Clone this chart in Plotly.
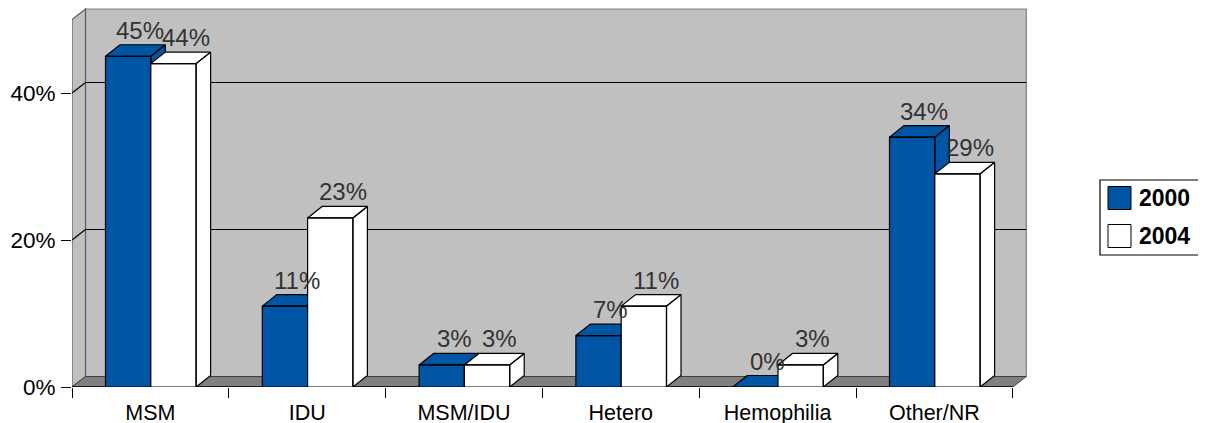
import plotly.graph_objects as go

# ---------------- data ----------------
categories = ["MSM", "IDU", "MSM/IDU", "Hetero", "Hemophilia", "Other/NR"]
series_names = ["2000", "2004"]
values_2000 = [45, 11, 3, 7, 0, 34]
values_2004 = [44, 23, 3, 11, 3, 29]
y_tick_vals = [0, 20, 40]
y_tick_text = ["0%", "20%", "40%"]

# ---------------- style / geometry ----------------
BLUE = "#0055A5"
WHITE = "#FFFFFF"
WALL = "#C0C0C0"
FLOOR = "#808080"
EDGE = "#808080"
FONT = "Liberation Sans, Arial, sans-serif"

PAGE_OFF = 8            # default body margin of the html page
W_PX, H_PX = 1206 - PAGE_OFF, 423 - PAGE_OFF
PX_PER_CAT = 156.8
PX_PER_PCT = 7.35
ML = 72 - PAGE_OFF
MT = 0
MR = W_PX - (1027 - PAGE_OFF)
MB = H_PX - (387 - PAGE_OFF)
plot_w = W_PX - ML - MR
plot_h = H_PX - MT - MB
XMAX = plot_w / PX_PER_CAT
YMAX = plot_h / PX_PER_PCT
TOP = 50  # wall top (front plane, %)

# depth offsets in data units
DXW, DYW = 13.5 / PX_PER_CAT, 10.5 / PX_PER_PCT      # walls / floor
DXB, DYB = 14.5 / PX_PER_CAT, 11.5 / PX_PER_PCT      # bars
BAR_OFF = 33.5 / PX_PER_CAT
BAR_W = 45.3 / PX_PER_CAT


def px(xp):  # page pixel -> paper
    return (xp - PAGE_OFF - ML) / plot_w


def py(yp):
    return (H_PX - MB - (yp - PAGE_OFF)) / plot_h


n = len(categories)
fig = go.Figure()

# ---------------- walls & floor ----------------
shapes = []
shapes.append(dict(type="rect", xref="x", yref="y", x0=DXW, x1=n + DXW, y0=DYW, y1=TOP + DYW,
                   fillcolor=WALL, line=dict(color=EDGE, width=1.2), layer="below"))
shapes.append(dict(type="path", xref="x", yref="y",
                   path=f"M0,0 L0,{TOP} L{DXW},{TOP + DYW} L{DXW},{DYW} Z",
                   fillcolor=WALL, line=dict(color="#606060", width=1.2), layer="below"))
shapes.append(dict(type="path", xref="x", yref="y",
                   path=f"M0,0 L{n},0 L{n + DXW},{DYW} L{DXW},{DYW} Z",
                   fillcolor=FLOOR, line=dict(color="#404040", width=1), layer="below"))
for v in y_tick_vals[1:]:
    shapes.append(dict(type="line", xref="x", yref="y", x0=DXW, x1=n + DXW,
                       y0=v + DYW, y1=v + DYW, line=dict(color="black", width=1.2), layer="below"))
    shapes.append(dict(type="line", xref="x", yref="y", x0=0, x1=DXW,
                       y0=v, y1=v + DYW, line=dict(color="black", width=1.2), layer="below"))
shapes.append(dict(type="line", xref="x", yref="y", x0=0, x1=n, y0=0, y1=0,
                   line=dict(color="black", width=1.5), layer="below"))

# ---------------- 3D bars (scatter polygons) ----------------
annotations = []
colors = [BLUE, WHITE]
for i in range(n):
    for s, vals in enumerate([values_2000, values_2004]):
        v = vals[i]
        col = colors[s]
        x0 = i + BAR_OFF + s * BAR_W
        x1 = x0 + BAR_W
        xs = [x0, x1, x1, x0, x0, None,
              x0, x1, x1 + DXB, x0 + DXB, x0, None,
              x1, x1 + DXB, x1 + DXB, x1, x1]
        ys = [0, 0, v, v, 0, None,
              v, v, v + DYB, v + DYB, v, None,
              0, DYB, v + DYB, v, 0]
        fig.add_trace(go.Scatter(
            x=xs, y=ys, mode="lines", fill="toself", fillcolor=col,
            line=dict(color="black", width=1.2), showlegend=False,
            name=series_names[s], hoverinfo="skip"))
        annotations.append(dict(
            x=(x0 + x1) / 2 + DXB * 0.85, y=v + DYB, xref="x", yref="y",
            text=f"{v}%", showarrow=False, yanchor="bottom", xanchor="center",
            font=dict(family=FONT, size=24, color="#333333"), yshift=-1))

# ---------------- legend (box, swatches, text) ----------------
shapes.append(dict(type="rect", xref="paper", yref="paper",
                   x0=px(1100), x1=px(1204.5), y0=py(255), y1=py(180),
                   fillcolor="white", line=dict(color="black", width=1.2)))
for k, (name, col) in enumerate(zip(series_names, colors)):
    cy = 198 + k * 38
    shapes.append(dict(type="rect", xref="paper", yref="paper",
                       x0=px(1108), x1=px(1131), y0=py(cy + 11.5), y1=py(cy - 11.5),
                       fillcolor=col, line=dict(color="black", width=1)))
    annotations.append(dict(x=px(1137), y=py(cy), xref="paper", yref="paper",
                            text=f"<b>{name}</b>", showarrow=False,
                            xanchor="left", yanchor="middle",
                            font=dict(family=FONT, size=23, color="black")))

fig.update_layout(
    width=W_PX, height=H_PX,
    margin=dict(l=ML, r=MR, t=MT, b=MB, pad=0, autoexpand=False),
    paper_bgcolor="white", plot_bgcolor="rgba(0,0,0,0)",
    shapes=shapes, annotations=annotations,
    showlegend=False,
    xaxis=dict(range=[0, XMAX], showgrid=False, zeroline=False, showline=False,
               automargin=False,
               tickvals=[i + 0.5 for i in range(n)], ticktext=categories, ticks="",
               tickfont=dict(family=FONT, size=21.5, color="black"),
               ticklabelstandoff=10,
               minor=dict(tickvals=list(range(n + 1)), ticks="outside", ticklen=10,
                          tickcolor="black", tickwidth=1.2, showgrid=False)),
    yaxis=dict(range=[0, YMAX], showgrid=False, zeroline=False, showline=False,
               automargin=False,
               tickvals=y_tick_vals, ticktext=y_tick_text, ticks="outside", ticklen=10,
               tickcolor="black", tickwidth=1.2, ticklabelstandoff=1,
               tickfont=dict(family=FONT, size=22.5, color="black")),
)

fig.write_html("out.html")
